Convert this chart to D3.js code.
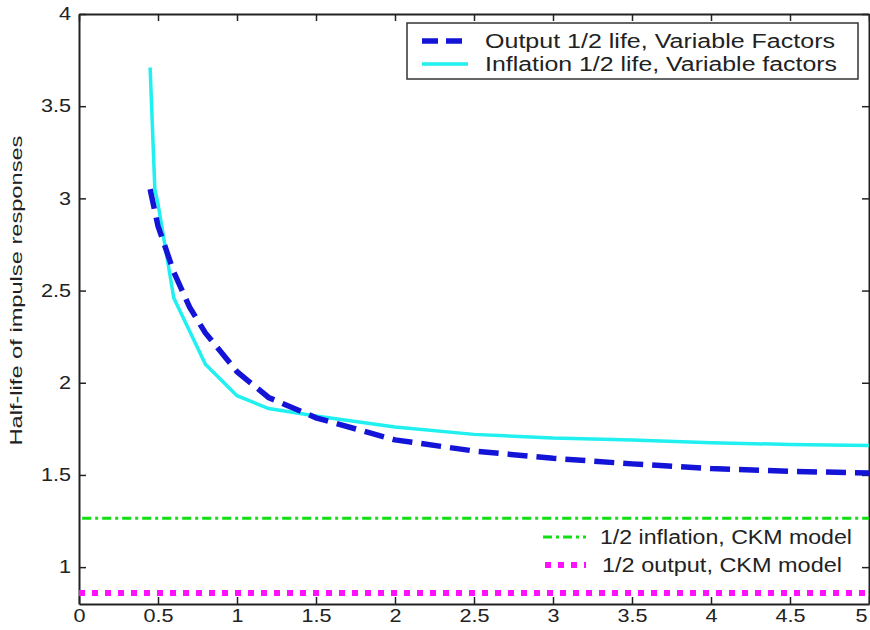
<!DOCTYPE html>
<html>
<head>
<meta charset="utf-8">
<script src="https://cdn.jsdelivr.net/npm/d3@7"></script>
<style>
  body { margin: 0; background: #fff; }
  text { font-family: "Liberation Sans", Arial, sans-serif; fill: #222; }
</style>
</head>
<body>
<div id="chart"></div>
<script>
// data
var xOutput = [0.45, 0.5, 0.6, 0.7, 0.8, 1.0, 1.2, 1.5, 2.0, 2.5, 3.0, 3.5, 4.0, 4.5, 5.0];
var yOutput = [3.05, 2.85, 2.60, 2.41, 2.27, 2.06, 1.92, 1.81, 1.69, 1.63, 1.59, 1.56, 1.535, 1.52, 1.51];
var xInflation = [0.45, 0.48, 0.5, 0.6, 0.8, 1.0, 1.2, 1.5, 2.0, 2.5, 3.0, 3.5, 4.0, 4.5, 5.0];
var yInflation = [3.71, 3.05, 2.97, 2.46, 2.10, 1.93, 1.86, 1.82, 1.76, 1.72, 1.70, 1.69, 1.675, 1.665, 1.66];
var ckmInflation = 1.265;
var ckmOutput = 0.86;
var xTicks = [0, 0.5, 1, 1.5, 2, 2.5, 3, 3.5, 4, 4.5, 5];
var yTicks = [1, 1.5, 2, 2.5, 3, 3.5, 4];
var legendTop = ["Output 1/2 life, Variable Factors", "Inflation 1/2 life, Variable factors"];
var legendBottom = ["1/2 inflation, CKM model", "1/2 output, CKM model"];

var opt = {
  width: 870, height: 630,
  margin: {top: 14, right: 1, bottom: 26, left: 79}
};
var inW = opt.width - opt.margin.left - opt.margin.right;
var inH = opt.height - opt.margin.top - opt.margin.bottom;

var svg = d3.select("#chart").append("svg")
  .attr("width", opt.width)
  .attr("height", opt.height);
var g = svg.append("g")
  .attr("transform", `translate(${opt.margin.left},${opt.margin.top})`);

var x = d3.scaleLinear().domain([0, 5]).range([0, inW]);
var y = d3.scaleLinear().domain([0.8, 4]).range([inH, 0]);

// the reference text is a bit stretched sideways
function widen(sel, k) {
  sel.each(function() {
    var w = this.getComputedTextLength();
    d3.select(this).attr("textLength", w * k).attr("lengthAdjust", "spacingAndGlyphs");
  });
}

var fmt = d => d3.format("")(d);
// axes, MATLAB style: ticks pointing inward on all four sides
var axB = g.append("g").attr("transform", `translate(0,${inH})`)
  .call(d3.axisBottom(x).tickValues(xTicks).tickFormat(fmt).tickSizeInner(-7).tickSizeOuter(0).tickPadding(5));
var axL = g.append("g")
  .call(d3.axisLeft(y).tickValues(yTicks).tickFormat(fmt).tickSizeInner(-7).tickSizeOuter(0).tickPadding(8));
var axT = g.append("g")
  .call(d3.axisTop(x).tickValues(xTicks).tickFormat("").tickSizeInner(-7).tickSizeOuter(0));
var axR = g.append("g").attr("transform", `translate(${inW},0)`)
  .call(d3.axisRight(y).tickValues(yTicks).tickFormat("").tickSizeInner(-7).tickSizeOuter(0));
[axB, axL, axT, axR].forEach(a => {
  a.selectAll(".domain").attr("stroke", "#222").attr("stroke-width", 2);
  a.selectAll(".tick line").attr("stroke", "#222").attr("stroke-width", 1.5);
  a.selectAll("text").style("font-size", "18px").attr("fill", "#222");
});
widen(axB.selectAll("text"), 1.2);
widen(axL.selectAll("text"), 1.2);
// keep the last x label inside the page
axB.selectAll(".tick").filter(d => d === 5).select("text").attr("text-anchor", "end").attr("dx", -2);

// y label
svg.append("text")
  .attr("transform", `translate(22,${opt.margin.top + y(2.5)}) rotate(-90)`)
  .attr("text-anchor", "middle")
  .attr("textLength", 310)
  .attr("lengthAdjust", "spacingAndGlyphs")
  .style("font-size", "16px")
  .text("Half-life of impulse responses");

var line = d3.line().x(d => x(d[0])).y(d => y(d[1]));
var outputPts = xOutput.map((v, i) => [v, yOutput[i]]);
var inflationPts = xInflation.map((v, i) => [v, yInflation[i]]);

// CKM reference levels
g.append("line")
  .attr("x1", x(0.02)).attr("x2", x(5)).attr("y1", y(ckmInflation)).attr("y2", y(ckmInflation))
  .attr("stroke", "#10e010").attr("stroke-width", 3).attr("stroke-dasharray", "9,4,3,4");
g.append("line")
  .attr("x1", x(0)).attr("x2", x(5)).attr("y1", y(ckmOutput)).attr("y2", y(ckmOutput))
  .attr("stroke", "#ff10ff").attr("stroke-width", 6).attr("stroke-dasharray", "6,7");

g.append("path").datum(inflationPts)
  .attr("d", line).attr("fill", "none")
  .attr("stroke", "#20f0f0").attr("stroke-width", 3.5);
g.append("path").datum(outputPts)
  .attr("d", line).attr("fill", "none")
  .attr("stroke", "#1414d8").attr("stroke-width", 5.5).attr("stroke-dasharray", "20,9");

// top legend (boxed)
var lg = svg.append("g");
lg.append("rect")
  .attr("x", 407).attr("y", 23).attr("width", 451).attr("height", 56)
  .attr("fill", "#fff").attr("stroke", "#333").attr("stroke-width", 1.5);
var topStyles = [
  {stroke: "#1414d8", width: 5.5, dash: "16,8"},
  {stroke: "#20f0f0", width: 3.5, dash: null}
];
legendTop.forEach((t, i) => {
  var yy = 41 + i * 23;
  lg.append("line").attr("x1", 422).attr("x2", 468).attr("y1", yy).attr("y2", yy)
    .attr("stroke", topStyles[i].stroke).attr("stroke-width", topStyles[i].width)
    .attr("stroke-dasharray", topStyles[i].dash);
  lg.append("text").attr("x", 485).attr("y", yy + 7)
    .attr("textLength", i === 0 ? 350 : 352)
    .attr("lengthAdjust", "spacingAndGlyphs")
    .style("font-size", "20px").text(t);
});

// bottom legend (no box)
var bottomStyles = [
  {stroke: "#10e010", width: 3, dash: "9,4,3,4", x1: 543},
  {stroke: "#ff10ff", width: 6, dash: "6,7", x1: 545}
];
legendBottom.forEach((t, i) => {
  var yy = 537 + i * 28;
  lg.append("line").attr("x1", bottomStyles[i].x1).attr("x2", 586).attr("y1", yy).attr("y2", yy)
    .attr("stroke", bottomStyles[i].stroke).attr("stroke-width", bottomStyles[i].width)
    .attr("stroke-dasharray", bottomStyles[i].dash);
  lg.append("text").attr("x", i === 0 ? 600 : 602).attr("y", yy + 7)
    .attr("textLength", i === 0 ? 252 : 240)
    .attr("lengthAdjust", "spacingAndGlyphs")
    .style("font-size", "20px").text(t);
});
</script>
</body>
</html>
